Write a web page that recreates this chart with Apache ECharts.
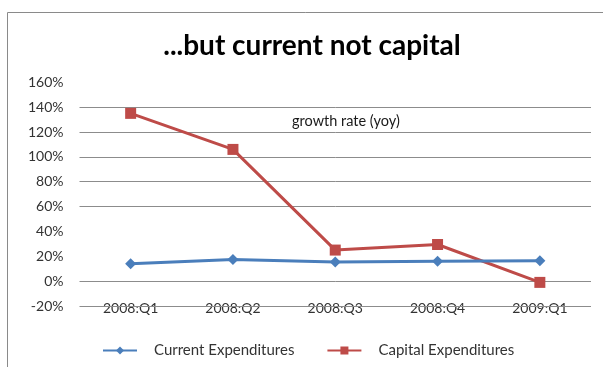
<!DOCTYPE html>
<html>
<head>
<meta charset="utf-8">
<script src="https://cdn.jsdelivr.net/npm/echarts@6/dist/echarts.min.js"></script>
<style>
  html, body { margin: 0; padding: 0; background: #ffffff; }
  #chart { width: 603px; height: 367px; }
</style>
</head>
<body>
<div id="chart"></div>
<script>
// Quarterly labels and year-on-year growth rates (%)
const quarters = ['2008:Q1', '2008:Q2', '2008:Q3', '2008:Q4', '2009:Q1'];
const currentExpenditures = [14, 17.5, 15.5, 16, 16.5];
const capitalExpenditures = [135, 106, 25, 29.5, -1];
const yTicks = { min: -20, max: 160, step: 20 };
// horizontal rules that are drawn across the plot
const ruleValues = [-20, 0, 60, 80, 100, 120, 140];

const FONT = 'Lato, "Open Sans", sans-serif';
const GRID = '#8c8c8c';

const chart = echarts.init(document.getElementById('chart'), null, { renderer: 'canvas' });

chart.setOption({
  backgroundColor: '#ffffff',
  animation: false,
  title: {
    text: '...but current not capital',
    left: 307, top: 27, textAlign: 'center',
    textStyle: { fontFamily: FONT, fontWeight: 'bold', fontSize: 28, color: '#000000' }
  },
  graphic: [
    {
      type: 'rect',
      shape: { x: 7.5, y: 12.5, width: 800, height: 600 },
      style: { fill: 'none', stroke: '#8a8a8a', lineWidth: 1 },
      silent: true
    },
    {
      type: 'text',
      left: 292, top: 114,
      style: { text: 'growth rate (yoy)', font: '14.5px ' + FONT, fill: '#1a1a1a' }
    }
  ],
  legend: {
    left: 102, top: 343, padding: 0,
    itemWidth: 34, itemHeight: 10, itemGap: 32,
    textStyle: { fontFamily: FONT, fontSize: 15, color: '#333333', padding: [0, 0, 0, 12] },
    data: ['Current Expenditures', 'Capital Expenditures']
  },
  grid: { left: 79.5, right: 12, top: 82.3, bottom: 61 },
  xAxis: {
    type: 'category',
    data: quarters,
    boundaryGap: true,
    axisLine: { show: false },
    axisTick: { show: false },
    axisLabel: { margin: -5, fontFamily: FONT, fontSize: 14, color: '#333333' }
  },
  yAxis: {
    type: 'value',
    min: yTicks.min, max: yTicks.max, interval: yTicks.step,
    axisLine: { show: false },
    axisTick: { show: false },
    axisLabel: { formatter: '{value}%', margin: 16, fontFamily: FONT, fontSize: 14, color: '#333333' },
    splitLine: { show: false }
  },
  series: [
    {
      name: 'Current Expenditures',
      type: 'line',
      data: currentExpenditures,
      symbol: 'diamond',
      symbolSize: 11,
      itemStyle: { color: '#4a7ebb' },
      lineStyle: { color: '#4a7ebb', width: 3 },
      z: 3,
      markLine: {
        silent: true,
        symbol: 'none',
        label: { show: false },
        lineStyle: { color: GRID, width: 1, type: 'solid' },
        emphasis: { disabled: true },
        z: 1,
        data: ruleValues.map(v => ({ yAxis: v }))
      }
    },
    {
      name: 'Capital Expenditures',
      type: 'line',
      data: capitalExpenditures,
      symbol: 'rect',
      symbolSize: 11,
      itemStyle: { color: '#be4b48' },
      lineStyle: { color: '#be4b48', width: 3 },
      z: 2
    }
  ]
});
</script>
</body>
</html>
